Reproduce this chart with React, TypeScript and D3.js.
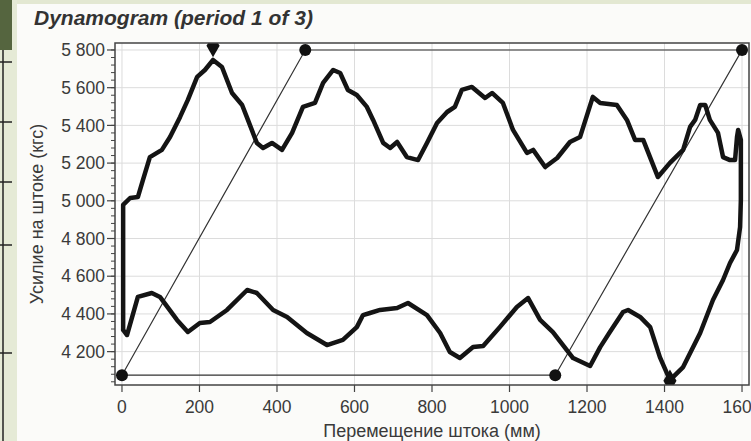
import React from "react";
import * as d3 from "d3";

const loopX = [3,3,3,21,41,54,72,103,124,150,170,194,214,235,258,284,310,325,348,364,387,413,439,467,498,519,545,563,583,606,632,648,674,692,710,735,764,787,813,839,859,877,903,937,955,983,1009,1045,1061,1092,1123,1156,1182,1215,1234,1277,1303,1324,1345,1383,1414,1448,1466,1479,1492,1505,1517,1538,1551,1569,1582,1587,1590,1597,1597,1597,1595,1587,1569,1551,1525,1492,1448,1414,1388,1363,1337,1306,1293,1259,1234,1208,1164,1112,1079,1048,1019,975,932,906,872,846,821,787,738,710,666,640,622,606,570,529,477,426,390,348,323,271,227,201,170,142,98,77,41,13,3];
const loopY = [4315,4792,4978,5015,5020,5110,5232,5270,5338,5445,5535,5657,5694,5747,5710,5572,5508,5429,5307,5280,5307,5270,5360,5498,5519,5625,5694,5678,5588,5561,5498,5429,5307,5280,5312,5232,5216,5307,5413,5471,5498,5588,5604,5545,5572,5519,5376,5254,5270,5179,5227,5312,5338,5551,5519,5508,5429,5323,5323,5126,5201,5270,5392,5429,5508,5508,5429,5360,5232,5216,5216,5338,5376,5323,5201,5004,4861,4739,4670,4580,4474,4299,4118,4049,4171,4330,4384,4421,4410,4304,4224,4124,4166,4304,4368,4484,4437,4330,4230,4224,4166,4198,4299,4394,4458,4431,4421,4405,4394,4330,4262,4235,4299,4384,4421,4511,4527,4421,4357,4352,4304,4368,4490,4511,4490,4288,4315];

// parallelogram (ideal dynamogram) corners
const idealX = [0, 473, 1600, 1118, 0];
const idealY = [4075, 5800, 5800, 4075, 4075];
const dotX = [0, 473, 1600, 1118];
const dotY = [4075, 5800, 5800, 4075];
// extreme markers
const markX = [235, 1414];
const markY = [5822, 4045];

const xTicks = [0, 200, 400, 600, 800, 1000, 1200, 1400, 1600];
const yTicks = [4200, 4400, 4600, 4800, 5000, 5200, 5400, 5600, 5800];
const yMinor = d3.range(4040, 5801, 40);

const title = "Dynamogram (period 1 of 3)";
const xTitle = "Перемещение штока (мм)";
const yTitle = "Усилие на штоке (кгс)";

const fmt = (v: number) => (v >= 1000 ? `${Math.floor(v / 1000)} ${String(v % 1000).padStart(3, "0")}` : String(v));

export default function App() {
  const W = 751, H = 441;
  const L = 115, R = 749, T = 43, B = 385;
  const x = d3.scaleLinear().domain([-18, 1618]).range([L, R]);
  const y = d3.scaleLinear().domain([4023, 5837]).range([B, T]);
  const loopPts: [number, number][] = loopX.map((v, i) => [v, loopY[i]]);
  const line = d3.line<[number, number]>().x((d) => x(d[0])).y((d) => y(d[1]));
  const idealPts: [number, number][] = idealX.map((v, i) => [v, idealY[i]]);
  const diamond = d3.symbol().type(d3.symbolDiamond).size(150)();
  const font = "'Liberation Sans', Arial, sans-serif";
  const txt = "#3a3a3a";
  return (
    <svg width={W} height={H} style={{ position: "absolute", left: 0, top: 0, background: "#fbfbf9" }}>
      <defs>
        <clipPath id="pc"><rect x={L} y={T} width={R - L} height={B - T} /></clipPath>
      </defs>
      <rect x={0} y={0} width={W} height={H} fill="#fbfbf9" />
      <rect x={0} y={0} width={W} height={4} fill="#e3e8d2" />
      <rect x={0} y={0} width={17} height={H} fill="#e5ead6" />
      <rect x={0} y={0} width={12} height={50} fill="#55653f" />
      <line x1={3} x2={3} y1={50} y2={H} stroke="#222" strokeWidth={1.5} />
      {[62, 122, 182, 245, 353].map((v) => (
        <line key={v} x1={0} x2={12} y1={v} y2={v} stroke="#222" strokeWidth={1.5} />
      ))}
      <text x={34} y={25} fontFamily={font} fontSize={21} fontWeight="bold" fontStyle="italic" fill="#333">{title}</text>
      <rect x={L} y={T} width={R - L} height={B - T} fill="#ffffff" />
      {xTicks.map((t) => (
        <line key={"gx" + t} x1={x(t)} x2={x(t)} y1={T} y2={B} stroke="#dcdcdc" strokeWidth={1} />
      ))}
      {yTicks.map((t) => (
        <line key={"gy" + t} x1={L} x2={R} y1={y(t)} y2={y(t)} stroke="#dcdcdc" strokeWidth={1} />
      ))}
      <g clipPath="url(#pc)">
        <path d={line(idealPts) || ""} fill="none" stroke="#333" strokeWidth={1.2} />
        <path d={line(loopPts) || ""} fill="none" stroke="#141414" strokeWidth={4.5} strokeLinejoin="round" strokeLinecap="round" />
        {dotX.map((v, i) => (
          <circle key={"d" + i} cx={x(v)} cy={y(dotY[i])} r={6} fill="#111" />
        ))}
        {markX.map((v, i) => (
          <path key={"m" + i} d={diamond || ""} transform={`translate(${x(v)},${y(markY[i])})`} fill="#111" />
        ))}
      </g>
      <rect x={L} y={T} width={R - L} height={B - T} fill="none" stroke="#444" strokeWidth={1.5} />
      {yMinor.map((t) => (
        <line key={"ym" + t} x1={L - 4} x2={L} y1={y(t)} y2={y(t)} stroke="#444" strokeWidth={1} />
      ))}
      {yTicks.map((t) => (
        <g key={"yt" + t}>
          <line x1={L - 8} x2={L} y1={y(t)} y2={y(t)} stroke="#444" strokeWidth={1.2} />
          <text x={L - 10} y={y(t)} dy="0.35em" textAnchor="end" fontFamily={font} fontSize={17.5} fill={txt}>{fmt(t)}</text>
        </g>
      ))}
      {xTicks.map((t) => (
        <g key={"xt" + t}>
          <line x1={x(t)} x2={x(t)} y1={B} y2={B + 7} stroke="#444" strokeWidth={1.2} />
          <text x={x(t)} y={B + 28} textAnchor="middle" fontFamily={font} fontSize={17.5} fill={txt}>{t}</text>
        </g>
      ))}
      <text x={(L + R) / 2} y={437} textAnchor="middle" fontFamily={font} fontSize={18} fill={txt}>{xTitle}</text>
      <text transform={`translate(43,${(T + B) / 2}) rotate(-90)`} textAnchor="middle" fontFamily={font} fontSize={18} fill={txt}>{yTitle}</text>
    </svg>
  );
}
